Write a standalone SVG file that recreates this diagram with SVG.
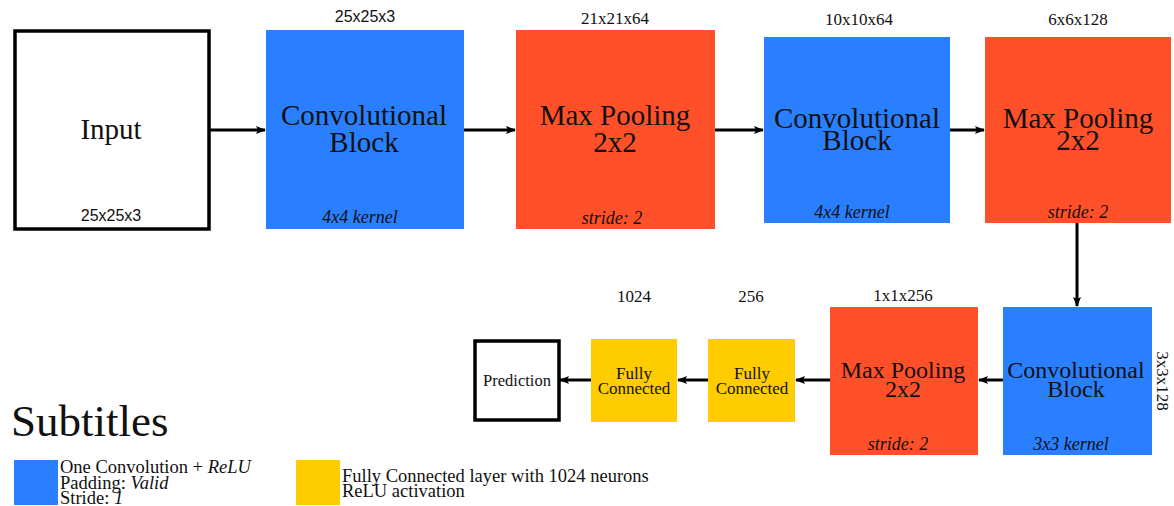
<svg xmlns="http://www.w3.org/2000/svg" width="1174" height="506" viewBox="0 0 1174 506">
<style>
.t{font-family:"Liberation Serif","DejaVu Serif",serif;fill:#111}
.big{font-size:29px}
.med{font-size:24px}
.mid{font-size:17px}
.sm{font-size:18.5px}
.fc{font-size:17px}
.it{font-style:italic}
.k{font-size:18px;font-style:italic}
.sans{font-family:"Liberation Sans","Arimo",sans-serif;font-size:16px;fill:#111}
.blue{fill:#2a7fff}
.red{fill:#ff502a}
.yel{fill:#ffcc00}
.box{fill:#fff;stroke:#000;stroke-width:3.5}
.c{stroke:#000;stroke-width:3;fill:none}
</style>
<defs>
<marker id="ah" markerWidth="10" markerHeight="8" refX="9" refY="4" orient="auto" markerUnits="userSpaceOnUse">
<path d="M0,0 L10,4 L0,8 L2,4 Z" fill="#000"/>
</marker>
</defs>
<rect width="1174" height="506" fill="#fff"/>
<g id="connectors">
<line class="c" x1="210" y1="130" x2="265" y2="130" marker-end="url(#ah)"/>
<line class="c" x1="464" y1="130" x2="515" y2="130" marker-end="url(#ah)"/>
<line class="c" x1="715" y1="130" x2="763" y2="130" marker-end="url(#ah)"/>
<line class="c" x1="950" y1="130" x2="984" y2="130" marker-end="url(#ah)"/>
<line class="c" x1="1077" y1="223" x2="1077" y2="306" marker-end="url(#ah)"/>
<line class="c" x1="1003" y1="380" x2="979" y2="380" marker-end="url(#ah)"/>
<line class="c" x1="830" y1="380" x2="796" y2="380" marker-end="url(#ah)"/>
<line class="c" x1="708" y1="380" x2="678" y2="380" marker-end="url(#ah)"/>
<line class="c" x1="591" y1="380" x2="560" y2="380" marker-end="url(#ah)"/>
</g>
<g id="input">
<rect class="box" x="15" y="31" width="194" height="198"/>
<text class="t big" x="111" y="139" text-anchor="middle">Input</text>
<text class="sans" x="111" y="221" text-anchor="middle">25x25x3</text>
</g>
<g id="conv1">
<rect class="blue" x="266" y="30" width="198" height="199"/>
<text class="sans" x="365" y="22" text-anchor="middle">25x25x3</text>
<text class="t big" x="364" y="125" text-anchor="middle">Convolutional</text>
<text class="t big" x="364" y="152" text-anchor="middle">Block</text>
<text class="t k" x="360" y="223" text-anchor="middle">4x4 kernel</text>
</g>
<g id="pool1">
<rect class="red" x="516" y="30" width="199" height="199"/>
<text class="t mid" x="615" y="24" text-anchor="middle">21x21x64</text>
<text class="t big" x="615" y="125" text-anchor="middle">Max Pooling</text>
<text class="t big" x="615" y="152" text-anchor="middle">2x2</text>
<text class="t k" x="612" y="224" text-anchor="middle">stride: 2</text>
</g>
<g id="conv2">
<rect class="blue" x="764" y="37" width="186" height="186"/>
<text class="t mid" x="859" y="25" text-anchor="middle">10x10x64</text>
<text class="t big" x="857" y="128" text-anchor="middle">Convolutional</text>
<text class="t big" x="857" y="150" text-anchor="middle">Block</text>
<text class="t k" x="852" y="218" text-anchor="middle">4x4 kernel</text>
</g>
<g id="pool2">
<rect class="red" x="985" y="37" width="186" height="186"/>
<text class="t mid" x="1078" y="25" text-anchor="middle">6x6x128</text>
<text class="t big" x="1078" y="128" text-anchor="middle">Max Pooling</text>
<text class="t big" x="1078" y="150" text-anchor="middle">2x2</text>
<text class="t k" x="1078" y="218" text-anchor="middle">stride: 2</text>
</g>
<g id="conv3">
<rect class="blue" x="1003" y="307" width="149" height="148"/>
<text class="t med" x="1076" y="378" text-anchor="middle">Convolutional</text>
<text class="t med" x="1076" y="397" text-anchor="middle">Block</text>
<text class="t k" x="1071" y="450" text-anchor="middle">3x3 kernel</text>
<text class="t mid" transform="translate(1157,381) rotate(90)" text-anchor="middle">3x3x128</text>
</g>
<g id="pool3">
<rect class="red" x="830" y="307" width="148" height="148"/>
<text class="t mid" x="903" y="301" text-anchor="middle">1x1x256</text>
<text class="t med" x="903" y="378" text-anchor="middle">Max Pooling</text>
<text class="t med" x="903" y="397" text-anchor="middle">2x2</text>
<text class="t k" x="898" y="450" text-anchor="middle">stride: 2</text>
</g>
<g id="fc2">
<rect class="yel" x="708" y="339" width="87" height="83"/>
<text class="t mid" x="751" y="302" text-anchor="middle">256</text>
<text class="t fc" x="752" y="379" text-anchor="middle">Fully</text>
<text class="t fc" x="752" y="394" text-anchor="middle">Connected</text>
</g>
<g id="fc1">
<rect class="yel" x="591" y="339" width="86" height="83"/>
<text class="t mid" x="634" y="302" text-anchor="middle">1024</text>
<text class="t fc" x="634" y="379" text-anchor="middle">Fully</text>
<text class="t fc" x="634" y="394" text-anchor="middle">Connected</text>
</g>
<g id="prediction">
<rect class="box" x="475" y="341" width="84" height="79"/>
<text class="t" x="517" y="386" text-anchor="middle" style="font-size:16.5px">Prediction</text>
</g>
<g id="legend">
<text class="t" x="11" y="436" style="font-size:45px">Subtitles</text>
<rect class="blue" x="14" y="460" width="44" height="45"/>
<text class="t sm" x="60" y="473">One Convolution + <tspan class="it">ReLU</tspan></text>
<text class="t sm" x="60" y="489">Padding: <tspan class="it">Valid</tspan></text>
<text class="t sm" x="60" y="504">Stride: <tspan class="it">1</tspan></text>
<rect class="yel" x="296" y="460" width="44" height="45"/>
<text class="t sm" x="342" y="482">Fully Connected layer with 1024 neurons</text>
<text class="t sm" x="342" y="497">ReLU activation</text>
</g>
</svg>
